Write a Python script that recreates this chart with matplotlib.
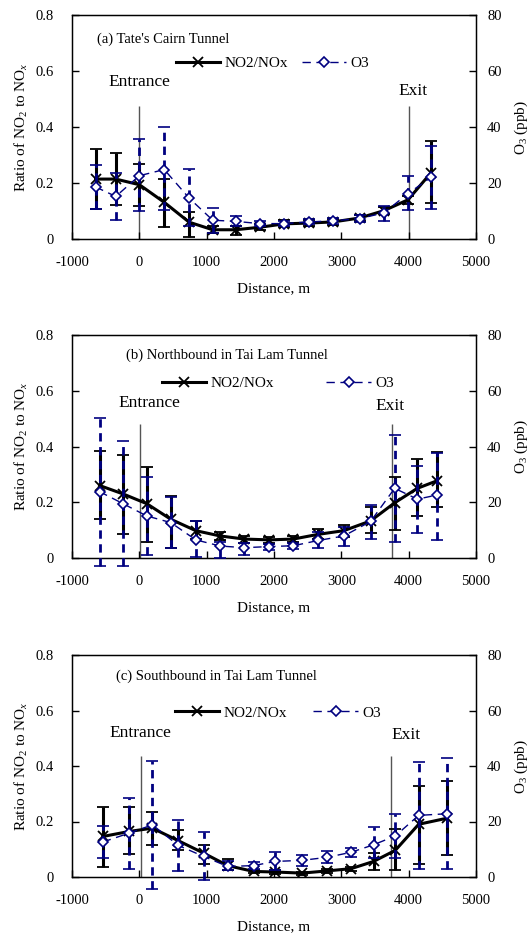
import matplotlib
matplotlib.use("Agg")
import matplotlib.pyplot as plt
import numpy as np

plt.rcParams['font.family'] = ['Liberation Serif', 'DejaVu Serif']
plt.rcParams['mathtext.fontset'] = 'custom'
plt.rcParams['mathtext.rm'] = 'Liberation Serif'
plt.rcParams['mathtext.it'] = 'Liberation Serif:italic'
plt.rcParams['axes.unicode_minus'] = False

# ---------------- data ----------------
# (a) Tate's Cairn Tunnel
dist_a = [-650, -350, 0, 370, 740, 1090, 1430, 1790, 2150, 2520, 2880, 3270, 3630, 3990, 4330]
no2_a = [0.214, 0.214, 0.194, 0.131, 0.060, 0.033, 0.033, 0.042, 0.054, 0.057, 0.061, 0.075, 0.101, 0.140, 0.236]
no2_a_lo = [0.107, 0.123, 0.119, 0.042, 0.007, 0.021, 0.015, 0.031, 0.042, 0.046, 0.051, 0.065, 0.088, 0.126, 0.129]
no2_a_hi = [0.321, 0.307, 0.269, 0.215, 0.098, 0.045, 0.045, 0.052, 0.067, 0.068, 0.071, 0.086, 0.114, 0.155, 0.349]
o3_a = [18.6, 15.2, 22.6, 24.8, 14.6, 6.7, 6.3, 5.5, 5.5, 6.1, 6.5, 7.3, 9.3, 16.2, 22.0]
o3_a_lo = [10.7, 6.9, 10.0, 10.2, 4.5, 2.1, 4.5, 4.6, 4.5, 5.2, 5.5, 6.2, 6.3, 10.2, 10.7]
o3_a_hi = [26.3, 23.6, 35.7, 39.9, 25.0, 11.1, 8.1, 6.5, 6.6, 7.1, 7.5, 8.4, 11.9, 22.4, 33.1]

# (b) Northbound in Tai Lam Tunnel
dist_b = [-590, -243, 109, 467, 839, 1201, 1558, 1930, 2288, 2660, 3037, 3434, 3792, 4129, 4422]
no2_b = [0.260, 0.230, 0.195, 0.139, 0.098, 0.079, 0.068, 0.065, 0.068, 0.085, 0.098, 0.133, 0.198, 0.250, 0.277]
no2_b_lo = [0.139, 0.087, 0.059, 0.037, 0.068, 0.065, 0.055, 0.053, 0.056, 0.068, 0.077, 0.089, 0.101, 0.150, 0.184]
no2_b_hi = [0.384, 0.370, 0.327, 0.223, 0.133, 0.092, 0.080, 0.077, 0.080, 0.103, 0.120, 0.184, 0.292, 0.354, 0.380]
o3_b = [23.8, 19.5, 15.1, 12.7, 6.5, 4.3, 3.7, 4.1, 4.4, 6.3, 7.9, 13.1, 25.0, 21.1, 22.6]
o3_b_lo = [-3.0, -3.0, 1.1, 3.5, 0.2, 0.0, 1.1, 2.9, 3.1, 3.7, 4.3, 6.8, 5.9, 8.9, 6.5]
o3_b_hi = [50.4, 41.8, 29.0, 22.0, 13.1, 5.9, 5.5, 5.1, 5.5, 9.2, 11.0, 19.0, 44.3, 33.1, 37.8]

# (c) Southbound in Tai Lam Tunnel
dist_c = [-542, -154, 194, 577, 955, 1313, 1697, 2010, 2418, 2791, 3144, 3478, 3801, 4149, 4572]
no2_c = [0.146, 0.164, 0.176, 0.131, 0.086, 0.041, 0.020, 0.018, 0.014, 0.022, 0.030, 0.056, 0.096, 0.190, 0.212]
no2_c_lo = [0.035, 0.084, 0.116, 0.096, 0.048, 0.026, 0.013, 0.012, 0.009, 0.016, 0.023, 0.026, 0.026, 0.048, 0.078]
no2_c_hi = [0.254, 0.254, 0.233, 0.170, 0.114, 0.065, 0.027, 0.024, 0.019, 0.028, 0.037, 0.086, 0.172, 0.329, 0.347]
o3_c = [12.6, 15.8, 18.8, 11.4, 7.4, 3.8, 4.1, 5.6, 6.0, 7.1, 8.9, 11.6, 14.8, 22.2, 22.8]
o3_c_lo = [6.8, 2.9, -4.5, 2.0, -1.0, 2.6, 2.9, 2.6, 3.8, 5.0, 7.2, 6.8, 6.8, 2.9, 2.9]
o3_c_hi = [18.2, 28.6, 41.9, 20.6, 16.2, 5.6, 5.3, 9.0, 8.0, 9.2, 10.4, 18.0, 22.6, 41.3, 43.0]

titles = ["(a) Tate's Cairn Tunnel", "(b) Northbound in Tai Lam Tunnel", "(c) Southbound in Tai Lam Tunnel"]
x_ticks = [-1000, 0, 1000, 2000, 3000, 4000, 5000]
y_ticks_left = [0, 0.2, 0.4, 0.6, 0.8]
y_ticklabels_left = ['0', '0.2', '0.4', '0.6', '0.8']
y_ticks_right = [0, 20, 40, 60, 80]
entrance_x = [0, 10, 20]
exit_x = [4000, 3750, 3740]
marker_line_top = [0.476, 0.48, 0.436]
entrance_text = [(0, 0.56), (144, 0.556), (10, 0.52)]
exit_text = [(4060, 0.53), (3717, 0.546), (3965, 0.51)]
title_pos = [(-634, 0.715), (-203, 0.727), (-352, 0.724)]
legend_pos = [(0.496, 0.785), (0.51, 0.784), (0.51, 0.74)]
legend_colspace = [0.9, 3.4, 1.7]

panels = [
    (dist_a, no2_a, no2_a_lo, no2_a_hi, o3_a, o3_a_lo, o3_a_hi),
    (dist_b, no2_b, no2_b_lo, no2_b_hi, o3_b, o3_b_lo, o3_b_hi),
    (dist_c, no2_c, no2_c_lo, no2_c_hi, o3_c, o3_c_lo, o3_c_hi),
]

W, H = 529, 933
fig = plt.figure(figsize=(W / 100, H / 100), dpi=100)
navy = '#000080'
axes_px = [(15, 239), (335, 558), (655, 877)]

for i, (d, r, rlo, rhi, o, olo, ohi) in enumerate(panels):
    top, bot = axes_px[i]
    ax = fig.add_axes([72 / W, 1 - bot / H, (476 - 72) / W, (bot - top) / H])
    d = np.array(d); r = np.array(r); o = np.array(o)
    rerr = [r - np.array(rlo), np.array(rhi) - r]
    oerr = [o - np.array(olo), np.array(ohi) - o]

    ax.set_xlim(-1000, 5000)
    ax.set_ylim(0, 0.8)
    ax.set_xticks(x_ticks)
    ax.set_yticks(y_ticks_left)
    ax.set_yticklabels(y_ticklabels_left)
    ax.tick_params(axis='y', direction='in', length=5, width=1, labelsize=10.5, pad=13)
    ax.tick_params(axis='x', direction='in', length=5, width=1, labelsize=10.5, pad=12, top=False)
    for s in ax.spines.values():
        s.set_linewidth(1.0)

    ax.vlines([entrance_x[i], exit_x[i]], 0, marker_line_top[i], colors='#555555', linewidth=1.0, zorder=1)
    ax.text(entrance_text[i][0], entrance_text[i][1], 'Entrance', ha='center', va='center', fontsize=12.5)
    ax.text(exit_text[i][0], exit_text[i][1], 'Exit', ha='center', va='center', fontsize=12.5)
    ax.text(title_pos[i][0], title_pos[i][1], titles[i], ha='left', va='center', fontsize=10.5)

    eb1 = ax.errorbar(d, r, yerr=rerr, color='black', linewidth=2.2, marker='x', markersize=7,
                      markeredgewidth=1.3, elinewidth=2.2, capsize=4, capthick=2.2, zorder=3,
                      label='NO2/NOx')
    ax.set_ylabel('Ratio of NO$_2$ to NO$_x$', fontsize=11, labelpad=4)
    ax.set_xlabel('Distance, m', fontsize=11, labelpad=10)

    ax2 = ax.twinx()
    ax2.set_ylim(0, 80)
    ax2.set_yticks(y_ticks_right)
    ax2.tick_params(direction='in', length=5, width=1, labelsize=10.5, pad=8)
    eb2 = ax2.errorbar(d, o, yerr=oerr, color=navy, linewidth=1.0, linestyle=(0, (6, 4)),
                       marker='D', markersize=5.5, markerfacecolor='white', markeredgecolor=navy,
                       markeredgewidth=1.2, elinewidth=2.0, capsize=4, capthick=2.0, zorder=3,
                       label='O3')
    for coll in eb2[2]:
        coll.set_linestyle((0, (3, 2)))
        coll.set_clip_on(False)
    for cap in eb2[1]:
        cap.set_clip_on(False)
    ax2.set_ylabel('O$_3$ (ppb)', fontsize=11, labelpad=8)

    ax2.legend([eb1[0], eb2[0]], ['NO2/NOx', 'O3'], loc='center', ncol=2, frameon=False,
               bbox_to_anchor=legend_pos[i], bbox_transform=ax.transAxes,
               fontsize=11, handlelength=2.9, handletextpad=0.3,
               columnspacing=legend_colspace[i])

fig.savefig('out.png', dpi=100)
